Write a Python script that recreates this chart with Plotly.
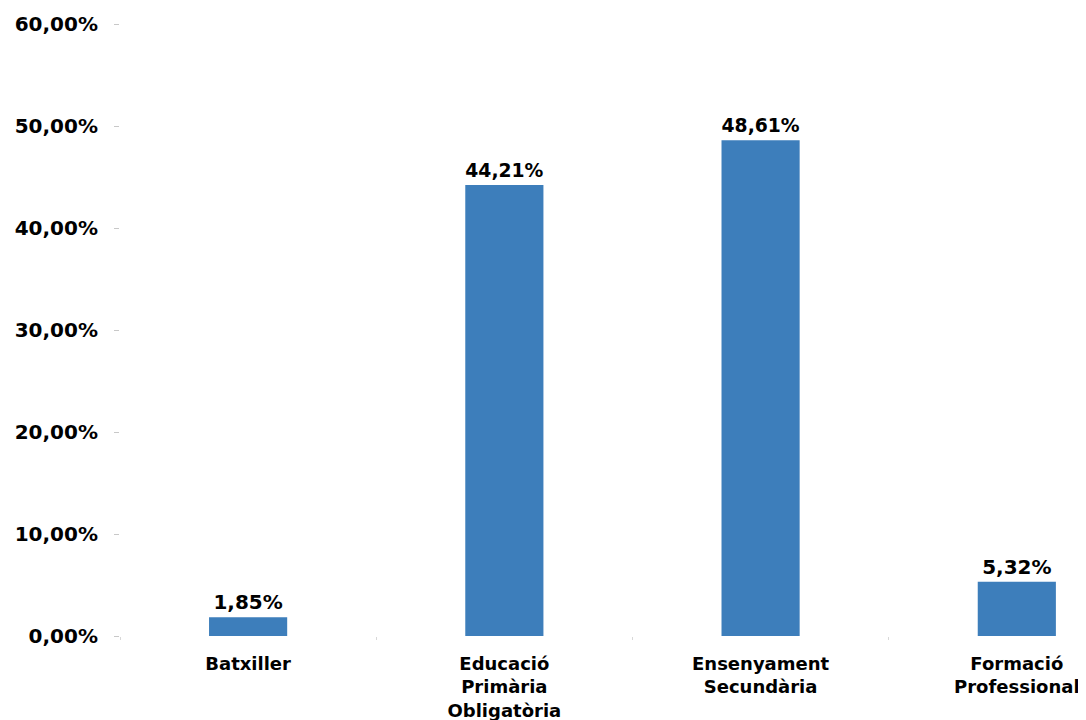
import plotly.graph_objects as go

categories = ["Batxiller", "Educació<br>Primària<br>Obligatòria", "Ensenyament<br>Secundària", "Formació<br>Professional"]
values = [1.85, 44.21, 48.61, 5.32]
value_labels = ["1,85%", "44,21%", "48,61%", "5,32%"]
tick_vals = [0, 10, 20, 30, 40, 50, 60]
tick_text = ["0,00%", "10,00%", "20,00%", "30,00%", "40,00%", "50,00%", "60,00%"]

fig = go.Figure(go.Bar(
    x=categories, y=values,
    text=value_labels, textposition="outside",
    textfont=dict(family="DejaVu Sans", size=20, color="black", weight="bold"),
    marker=dict(color="#3d7ebb", line=dict(width=0)),
    width=0.305, cliponaxis=False,
))
fig.update_layout(
    width=1078, height=712,
    margin=dict(l=112, r=0, t=16, b=84),
    plot_bgcolor="white", paper_bgcolor="white",
    font=dict(family="DejaVu Sans", size=18, color="black"),
    showlegend=False,
)
fig.update_yaxes(range=[0, 60], tickvals=tick_vals, ticktext=tick_text,
                 showgrid=False, zeroline=False, showline=False,
                 ticks="outside", ticklen=5, tickcolor="#c8c8c8", ticklabelstandoff=12,
                 tickfont=dict(family="DejaVu Sans", size=20, color="black", weight="bold"))
fig.update_xaxes(type="category", range=[-0.5, 3.27], tickson="boundaries",
                 showgrid=False, zeroline=False, showline=False,
                 ticks="outside", ticklen=3, tickcolor="#d8d8d8", ticklabelstandoff=15,
                 tickfont=dict(family="DejaVu Sans", size=18, color="black", weight="bold"))
fig.write_html("out.html")
